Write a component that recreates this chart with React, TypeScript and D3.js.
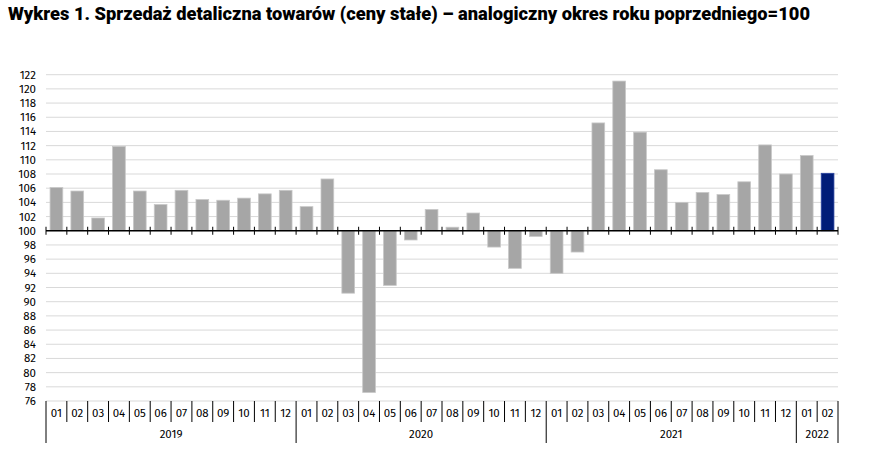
import React from 'react';
import * as d3 from 'd3';

const months = ['01', '02', '03', '04', '05', '06', '07', '08', '09', '10', '11', '12'];
const years = ['2019', '2020', '2021', '2022'];

const values2019 = [106.1, 105.6, 101.8, 111.9, 105.6, 103.7, 105.7, 104.4, 104.3, 104.6, 105.2, 105.7];
const values2020 = [103.4, 107.3, 91.2, 77.2, 92.3, 98.7, 103.0, 100.5, 102.5, 97.7, 94.7, 99.2];
const values2021 = [94.0, 97.0, 115.2, 121.1, 113.9, 108.6, 104.0, 105.4, 105.1, 106.9, 112.1, 108.0];
const values2022 = [110.6, 108.1];

const yTicks = d3.range(76, 123, 2);

const title = 'Wykres 1. Sprzedaż detaliczna towarów (ceny stałe) – analogiczny okres roku poprzedniego=100';

type Row = { key: string; year: string; month: string; value: number };

const rows: Row[] = [values2019, values2020, values2021, values2022].flatMap((vals, yi) =>
  vals.map((v, mi) => ({ key: `${years[yi]}-${months[mi]}`, year: years[yi], month: months[mi], value: v }))
);

const W = 874;
const H = 466;
const margin = { left: 46, right: 36, top: 74.7, bottom: 65 };

const App = () => {
  const x = d3.scaleBand<string>()
    .domain(rows.map(d => d.key))
    .range([margin.left, W - margin.right])
    .paddingInner(0.39)
    .paddingOuter(0.195);

  const y = d3.scaleLinear()
    .domain([76, 122])
    .range([H - margin.bottom, margin.top]);

  const step = x.step();
  const x0 = margin.left;
  const base = y(100);
  const bottom = y(76);
  const font = '"Fira Sans", "Noto Sans", sans-serif';

  // year groups: first index and count
  const groups = years.map(yr => {
    const idx = rows.findIndex(r => r.year === yr);
    const n = rows.filter(r => r.year === yr).length;
    return { yr, idx, n };
  });

  return (
    <div style={{ position: 'fixed', left: 0, top: 0, background: '#fff' }}>
      <svg width={W} height={H} style={{ display: 'block' }}>
        <rect width={W} height={H} fill="#fff" />
        <text
          x={8}
          y={20}
          fontFamily='"Roboto", "Noto Sans", sans-serif'
          fontWeight={900}
          fontSize={18}
          fill="#000"
          textLength={802}
          lengthAdjust="spacingAndGlyphs"
        >
          {title}
        </text>

        {/* grid */}
        {yTicks.map(t => (
          <g key={t}>
            {t !== 100 && (
              <line x1={x0} x2={W - margin.right} y1={y(t)} y2={y(t)} stroke="#d9d9d9" strokeWidth={1} />
            )}
            <text
              x={36}
              y={y(t)}
              dy="0.35em"
              textAnchor="end"
              fontFamily={font}
              fontSize={11.5}
              fill="#000"
            >
              {t}
            </text>
          </g>
        ))}

        {/* bars */}
        {rows.map((d, i) => {
          const top = Math.min(y(d.value), base);
          const h = Math.abs(y(d.value) - base);
          const last = i === rows.length - 1;
          return (
            <rect
              key={d.key}
              x={x(d.key)}
              y={top}
              width={x.bandwidth()}
              height={h}
              fill={last ? '#001c78' : '#a6a6a6'}
              stroke={last ? '#2a44a0' : '#c8c8c8'}
              strokeWidth={0.8}
            />
          );
        })}

        {/* 100 baseline with ticks */}
        <line x1={x0} x2={W - margin.right} y1={base} y2={base} stroke="#000" strokeWidth={1.3} />
        {d3.range(rows.length + 1).map(i => (
          <line key={i} x1={x0 + i * step} x2={x0 + i * step} y1={base - 4} y2={base + 4} stroke="#000" strokeWidth={1} />
        ))}

        {/* bottom category axis */}
        {d3.range(rows.length + 1).map(i => {
          const isYear = groups.some(g => g.idx === i) || i === rows.length;
          return (
            <line
              key={i}
              x1={x0 + i * step}
              x2={x0 + i * step}
              y1={bottom}
              y2={isYear ? bottom + 42 : bottom + 21}
              stroke="#000"
              strokeWidth={1}
            />
          );
        })}
        {rows.map(d => (
          <text
            key={d.key}
            x={(x(d.key) as number) + x.bandwidth() / 2}
            y={bottom + 16}
            textAnchor="middle"
            fontFamily={font}
            fontSize={11.5}
            fill="#000"
          >
            {d.month}
          </text>
        ))}
        {groups.map(g => (
          <text
            key={g.yr}
            x={x0 + (g.idx + g.n / 2) * step}
            y={bottom + 37}
            textAnchor="middle"
            fontFamily={font}
            fontSize={11.5}
            fill="#000"
          >
            {g.yr}
          </text>
        ))}
      </svg>
    </div>
  );
};

export default App;
